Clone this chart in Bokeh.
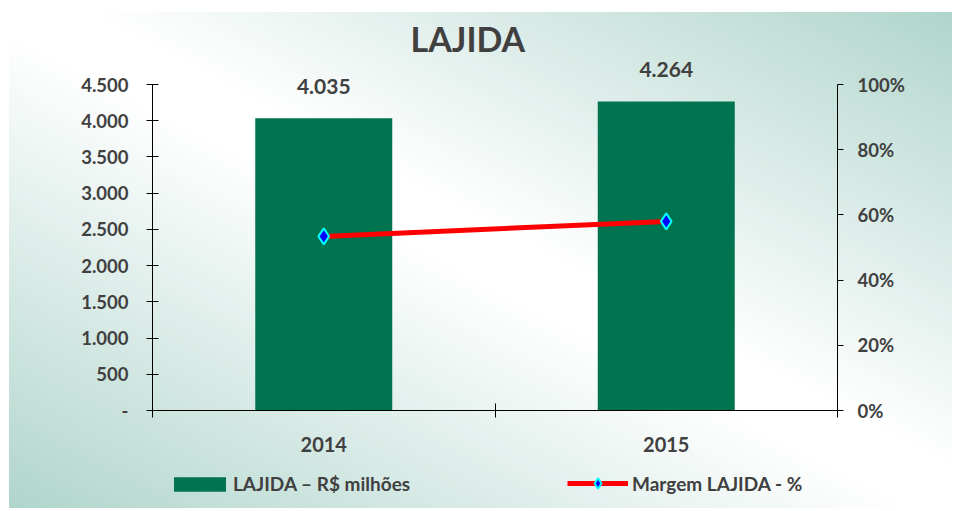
from bokeh.plotting import figure
from bokeh.models import (Range1d, LinearAxis, FixedTicker, Legend, LegendItem,
                          ColumnDataSource, Title, Column)
from bokeh.core.properties import value
from bokeh.embed import file_html
from bokeh.resources import INLINE

# ---- data ----
years = ["2014", "2015"]
lajida = [4035, 4264]               # R$ milhões
margem = [0.534, 0.580]             # Margem LAJIDA (fraction)
lajida_labels = ["4.035", "4.264"]
left_ticks = [0, 500, 1000, 1500, 2000, 2500, 3000, 3500, 4000, 4500]
left_tick_labels = ["-", "500", "1.000", "1.500", "2.000", "2.500", "3.000", "3.500", "4.000", "4.500"]
right_ticks = [0, 0.2, 0.4, 0.6, 0.8, 1.0]
right_tick_labels = ["0%", "20%", "40%", "60%", "80%", "100%"]
series_names = ["LAJIDA – R$ milhões", "Margem LAJIDA - %"]

FONT = "Lato"
TXT = "#404040"
GREEN = "#00744f"
RED = "#ff0000"

# layout (pixels)
W, H = 952, 462
LEG_H = 46
FL, FR, FT, FB = 152, 837, 58, 410      # frame edges
AXIS_TOP = 84                            # where the axes' max value sits
frame_h = FB - FT
axis_h = FB - AXIS_TOP
YMAX = 4500
y_top = YMAX * frame_h / axis_h
pct_top = 1.0 * frame_h / axis_h

xpos = [i + 0.5 for i in range(len(years))]
src = ColumnDataSource(dict(x=xpos, year=years, lajida=lajida, margem=margem, lab=lajida_labels))

p = figure(width=W, height=H, output_backend="svg", toolbar_location=None,
           x_range=Range1d(0, len(years)), y_range=Range1d(0, y_top),
           min_border_left=FL, min_border_right=W - FR, min_border_top=FT, min_border_bottom=H - FB,
           x_axis_location=None, y_axis_location=None)
p.border_fill_color = None
p.background_fill_color = None
p.outline_line_color = None
p.xgrid.visible = False
p.ygrid.visible = False
p.extra_y_ranges = {"pct": Range1d(0, pct_top)}

def style_axis(ax, size="18px"):
    ax.axis_line_color = "black"
    ax.major_label_text_font = FONT
    ax.major_label_text_font_style = "bold"
    ax.major_label_text_font_size = size
    ax.major_label_text_color = TXT
    ax.major_tick_line_color = "black"
    ax.minor_tick_line_color = "black"

# x axis: labels at centers, ticks at boundaries
xax = LinearAxis(ticker=FixedTicker(ticks=xpos, minor_ticks=list(range(len(years) + 1))),
                 major_label_overrides={x: y for x, y in zip(xpos, years)})
style_axis(xax, "20px")
xax.major_tick_in = 0
xax.major_tick_out = 0
xax.minor_tick_in = 7
xax.minor_tick_out = 7
xax.major_label_standoff = 19
p.add_layout(xax, "below")

# left axis
lax = LinearAxis(ticker=FixedTicker(ticks=left_ticks, minor_ticks=[]), bounds=(0, YMAX),
                 major_label_overrides={t: s for t, s in zip(left_ticks, left_tick_labels)})
style_axis(lax, "18.5px")
lax.major_tick_in = 6
lax.major_tick_out = 6
lax.major_label_standoff = 18
p.add_layout(lax, "left")

# right axis
rax = LinearAxis(y_range_name="pct", ticker=FixedTicker(ticks=right_ticks, minor_ticks=[]),
                 bounds=(0, 1),
                 major_label_overrides={t: s for t, s in zip(right_ticks, right_tick_labels)})
style_axis(rax, "18.5px")
rax.major_tick_in = 0
rax.major_tick_out = 6
rax.major_label_standoff = 14
p.add_layout(rax, "right")

p.vbar(x="x", top="lajida", width=0.4, source=src, fill_color=GREEN, line_color=None)
p.text(x="x", y="lajida", text="lab", source=src, y_offset=-32,
       text_font=value(FONT), text_font_style="bold", text_font_size="21px",
       text_color=TXT, text_align="center", text_baseline="middle")
p.line(x="x", y="margem", source=src, y_range_name="pct", line_color=RED, line_width=5)
p.scatter(x="x", y="margem", source=src, y_range_name="pct", marker="diamond", size=16,
          fill_color="#0000ff", line_color="#00ffff", line_width=2)

title = Title(text="LAJIDA", text_font=FONT, text_font_style="bold", text_font_size="34px",
              text_color=TXT, align="left", offset=258, standoff=0)
p.add_layout(title, "above")

# ---- legend strip (separate figure; its frame is aligned with the main frame) ----
# its renderers are hidden, so only their legend swatches show
lf = figure(width=W, height=LEG_H, output_backend="svg", toolbar_location=None,
            x_range=Range1d(0, len(years)), y_range=Range1d(0, 1),
            min_border=0, x_axis_location=None, y_axis_location=None)
lf.border_fill_color = None
lf.background_fill_color = None
lf.outline_line_color = None
lf.xgrid.visible = False
lf.ygrid.visible = False
lb = lf.vbar(x="x", bottom=0, top="lajida", width=0.4, source=src, fill_color=GREEN, line_color=None)
ll = lf.line(x="x", y="margem", source=src, line_color=RED, line_width=5)
lm = lf.scatter(x="x", y="margem", source=src, marker="diamond", size=12,
                fill_color="#0000ff", line_color="#00ffff", line_width=2)
for r in (lb, ll, lm):
    r.visible = False

def add_legend(item, loc, gw, gh, standoff):
    lg = Legend(items=[item], location=loc, orientation="horizontal",
                glyph_width=gw, glyph_height=gh, label_standoff=standoff, padding=0, margin=0,
                border_line_color=None, background_fill_alpha=0, inactive_fill_alpha=0,
                label_text_font=FONT, label_text_font_style="bold",
                label_text_font_size="19px", label_text_color=TXT)
    lf.add_layout(lg, "center")

add_legend(LegendItem(label=series_names[0], renderers=[lb]), (15, 13), 65, 18, 1)
add_legend(LegendItem(label=series_names[1], renderers=[ll, lm]), (415, 12), 61, 26, 4)

layout = Column(p, lf, spacing=0)
layout.styles = {
    "background-image": "linear-gradient(to top right, #b0d5cc 0%, #ffffff 48%, #ffffff 54%, #b0d5cc 100%)",
    "background-repeat": "no-repeat",
    "background-position": "9px 12px",
    "background-size": "calc(100% - 9px) calc(100% - 12px)",
}

open("out.html", "w").write(file_html(layout, INLINE))
